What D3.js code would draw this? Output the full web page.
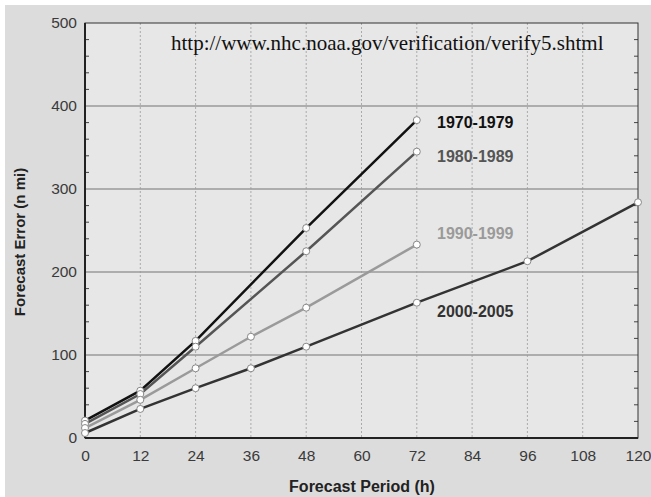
<!DOCTYPE html>
<html>
<head>
<meta charset="utf-8">
<script src="https://cdn.jsdelivr.net/npm/d3@7"></script>
<style>
  html, body { margin: 0; padding: 0; background: #fff; }
  svg { display: block; }
</style>
</head>
<body>
<svg width="651" height="497"></svg>
<script>
// forecast error by decade (n mi)
const hours1970 = [0, 12, 24, 48, 72];
const err1970 = [21, 57, 117, 253, 383];
const hours1980 = [0, 12, 24, 48, 72];
const err1980 = [17, 53, 110, 225, 345];
const hours1990 = [0, 12, 24, 36, 48, 72];
const err1990 = [12, 46, 84, 122, 157, 233];
const hours2000 = [0, 12, 24, 36, 48, 72, 96, 120];
const err2000 = [6, 35, 60, 84, 110, 163, 213, 284];

const seriesNames = ['1970-1979', '1980-1989', '1990-1999', '2000-2005'];
const seriesColors = ['#111', '#555', '#9a9a9a', '#333'];
const labelY = [380, 339, 246, 153]; // data-space y for the series labels

const xTicks = d3.range(0, 121, 12);
const yTicks = [0, 100, 200, 300, 400, 500];

const series = [
  { h: hours1970, e: err1970 },
  { h: hours1980, e: err1980 },
  { h: hours1990, e: err1990 },
  { h: hours2000, e: err2000 }
];

const svg = d3.select('svg');
const pl = 85, pr = 638, pt = 23, pb = 438;

const x = d3.scaleLinear().domain([0, 120]).range([pl, pr]);
const y = d3.scaleLinear().domain([0, 500]).range([pb, pt]);

// backgrounds
svg.append('rect').attr('x', 5).attr('y', 5).attr('width', 646).attr('height', 492).attr('fill', '#dcdcdc');
svg.append('rect').attr('x', pl).attr('y', pt).attr('width', pr - pl).attr('height', pb - pt).attr('fill', '#e7e7e7');

// vertical dashed grid
svg.append('g').selectAll('line')
  .data(xTicks.filter(d => d > 0 && d < 120))
  .join('line')
  .attr('x1', d => x(d)).attr('x2', d => x(d))
  .attr('y1', pt).attr('y2', pb)
  .attr('stroke', '#aaa').attr('stroke-width', 1).attr('stroke-dasharray', '2,2');

// horizontal grid
svg.append('g').selectAll('line')
  .data(yTicks.filter(d => d > 0 && d < 500))
  .join('line')
  .attr('x1', pl).attr('x2', pr)
  .attr('y1', d => y(d)).attr('y2', d => y(d))
  .attr('stroke', '#9a9a9a').attr('stroke-width', 1.5);

// minor ticks on left and right
const minor = d3.range(20, 500, 20).filter(d => d % 100 !== 0);
svg.append('g').selectAll('line')
  .data(minor)
  .join('line')
  .attr('x1', pl).attr('x2', pl + 4)
  .attr('y1', d => y(d)).attr('y2', d => y(d))
  .attr('stroke', '#444');
svg.append('g').selectAll('line')
  .data(minor)
  .join('line')
  .attr('x1', pr - 4).attr('x2', pr)
  .attr('y1', d => y(d)).attr('y2', d => y(d))
  .attr('stroke', '#444');

// frame
svg.append('rect').attr('x', pl).attr('y', pt).attr('width', pr - pl).attr('height', pb - pt)
  .attr('fill', 'none').attr('stroke', '#333').attr('stroke-width', 1);
svg.append('line').attr('x1', pl).attr('x2', pl).attr('y1', pt).attr('y2', pb)
  .attr('stroke', '#222').attr('stroke-width', 2);
svg.append('line').attr('x1', pl).attr('x2', pr).attr('y1', pb).attr('y2', pb)
  .attr('stroke', '#222').attr('stroke-width', 2);

// axes tick labels
const xAxis = svg.append('g').attr('transform', `translate(0,${pb})`)
  .call(d3.axisBottom(x).tickValues(xTicks).tickSize(0).tickPadding(12));
const yAxis = svg.append('g').attr('transform', `translate(${pl},0)`)
  .call(d3.axisLeft(y).tickValues(yTicks).tickSize(0).tickPadding(8));
[xAxis, yAxis].forEach(a => {
  a.select('.domain').remove();
  a.selectAll('text').attr('font-family', 'Liberation Sans, Arial, sans-serif')
    .attr('font-size', 15.5).attr('fill', '#3a3a3a');
});

// lines
const line = d3.line().x(d => x(d[0])).y(d => y(d[1]));
series.forEach((s, i) => {
  const pts = s.h.map((h, j) => [h, s.e[j]]);
  svg.append('path').datum(pts)
    .attr('d', line).attr('fill', 'none')
    .attr('stroke', seriesColors[i]).attr('stroke-width', 2.5);
});
series.forEach((s, i) => {
  const pts = s.h.map((h, j) => [h, s.e[j]]);
  svg.append('g').selectAll('circle')
    .data(pts)
    .join('circle')
    .attr('cx', d => x(d[0])).attr('cy', d => y(d[1])).attr('r', 3.5)
    .attr('fill', '#fff').attr('stroke', '#888').attr('stroke-width', 1);
});

// series labels
svg.append('g').selectAll('text')
  .data(seriesNames)
  .join('text')
  .attr('x', 437).attr('y', (d, i) => y(labelY[i]))
  .attr('dy', '0.35em')
  .attr('font-family', 'Liberation Sans, Arial, sans-serif')
  .attr('font-size', 16).attr('font-weight', 'bold')
  .attr('fill', (d, i) => seriesColors[i])
  .text(d => d);

// url
svg.append('text').attr('x', 171).attr('y', 50)
  .attr('font-family', 'Liberation Serif, Times New Roman, serif')
  .attr('font-size', 21).attr('fill', '#111')
  .text('http://www.nhc.noaa.gov/verification/verify5.shtml');

// axis titles
svg.append('text').attr('x', 362).attr('y', 492).attr('text-anchor', 'middle')
  .attr('font-family', 'Liberation Sans, Arial, sans-serif')
  .attr('font-size', 16).attr('font-weight', 'bold').attr('fill', '#222')
  .text('Forecast Period (h)');
svg.append('text').attr('transform', 'translate(25,242) rotate(-90)').attr('text-anchor', 'middle')
  .attr('font-family', 'Liberation Sans, Arial, sans-serif')
  .attr('font-size', 15).attr('font-weight', 'bold').attr('fill', '#222')
  .text('Forecast Error (n mi)');
</script>
</body>
</html>
